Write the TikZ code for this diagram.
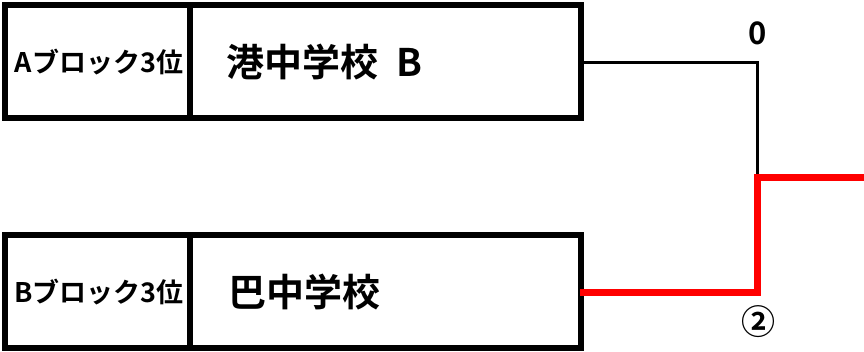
\documentclass[tikz,border=0pt]{standalone}
\usepackage{fontspec}
\setmainfont{Noto Sans CJK JP}[BoldFont=* Bold]
\newfontfamily\jp{Noto Sans CJK JP}[BoldFont=* Bold]
\begin{document}
\begin{tikzpicture}[x=1pt,y=-1pt,
  teambox/.style={draw=black,line width=6pt,inner sep=0pt,minimum width=576pt,minimum height=113pt},
  blocklabel/.style={font=\jp\bfseries\fontsize{27}{27}\selectfont,inner sep=0pt},
  schoolname/.style={font=\jp\bfseries\fontsize{38}{38}\selectfont,inner sep=0pt,anchor=west},
  scorelabel/.style={font=\jp\bfseries\fontsize{31}{31}\selectfont,inner sep=0pt},
  loseline/.style={draw=black,line width=3pt},
  winline/.style={draw=red,line width=7pt,line join=miter}]
\useasboundingbox (0,0) rectangle (864,351);
\node[teambox] (topbox) at (293,61.5) {};
\node[teambox] (botbox) at (293,291.5) {};
\draw[line width=6pt] (190,5) -- (190,118);
\draw[line width=6pt] (190,235) -- (190,348);
\node[blocklabel] (alabel) at (99,62) {Aブロック3位};
\node[blocklabel] (blabel) at (99,292) {Bブロック3位};
\node[schoolname] (topname) at (226,62) {港中学校\hspace{18pt}B};
\node[schoolname] (botname) at (228,292) {巴中学校};
\coordinate (tA) at (584,62);
\coordinate (tB) at (757.5,62);
\coordinate (tC) at (757.5,177);
\coordinate (bA) at (580,292.5);
\coordinate (bB) at (757,292.5);
\coordinate (bC) at (757,177);
\coordinate (bD) at (864,177);
\draw[loseline] (tA) -- (tB) -- (tC);
\draw[winline] (bA) -- (bB) -- (bC) -- (bD);
\node[scorelabel] (s1) at (758,33) {0};
\node[scorelabel,font=\jp\bfseries\fontsize{34}{34}\selectfont] (s2) at (758,322) {②};
\end{tikzpicture}
\end{document}
